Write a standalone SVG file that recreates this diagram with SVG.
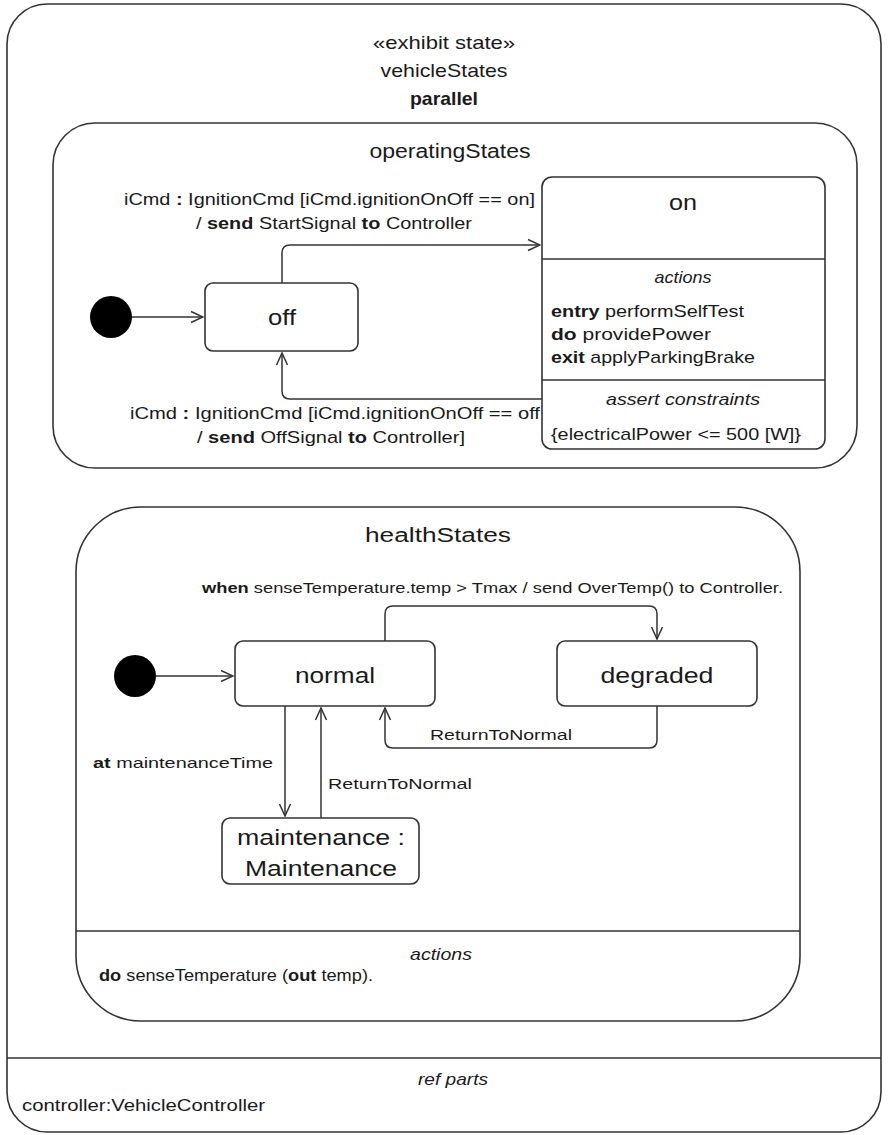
<svg xmlns="http://www.w3.org/2000/svg" width="888" height="1135" viewBox="0 0 888 1135">
<style>
 .box{fill:#fff;stroke:#333;stroke-width:1.6}
 .sep{fill:none;stroke:#333;stroke-width:1.5}
 .conn{fill:none;stroke:#333;stroke-width:1.5;marker-end:url(#arr)}
 .init{fill:#000}
 text{font-family:"Liberation Sans",Arial,Helvetica,sans-serif;fill:#1a1a1a}
 .t19{font-size:19px}
 .t20{font-size:20px}
 .t22{font-size:22px}
 .t17{font-size:17px}
 .t15{font-size:15px}
 .c{text-anchor:middle}
 .i{font-style:italic}
 .bd{font-weight:bold}
</style>
<defs>
 <marker id="arr" viewBox="0 0 14 14" refX="13" refY="7" markerWidth="14" markerHeight="14" markerUnits="userSpaceOnUse" orient="auto">
  <path d="M1,1.5 L13,7 L1,12.5" fill="none" stroke="#333" stroke-width="1.5"/>
 </marker>
</defs>

<g id="vehicleStates">
 <rect class="box" x="7" y="4" width="874" height="1128" rx="40"/>
 <line class="sep" x1="7" y1="1058" x2="881" y2="1058"/>
 <text class="t19 c" x="444" y="49" textLength="142" lengthAdjust="spacingAndGlyphs">«exhibit state»</text>
 <text class="t19 c" x="444" y="77" textLength="127" lengthAdjust="spacingAndGlyphs">vehicleStates</text>
 <text class="t19 c bd" x="444" y="105" textLength="68" lengthAdjust="spacingAndGlyphs">parallel</text>
 <text class="t17 c i" x="453" y="1085" textLength="70" lengthAdjust="spacingAndGlyphs">ref parts</text>
 <text class="t17" x="22" y="1111" textLength="243" lengthAdjust="spacingAndGlyphs">controller:VehicleController</text>
</g>

<g id="operatingStates">
 <rect class="box" x="53" y="123" width="804" height="345" rx="42"/>
 <text class="t20 c" x="450" y="158" textLength="161" lengthAdjust="spacingAndGlyphs">operatingStates</text>
</g>

<g id="opInitial">
 <circle class="init" cx="111" cy="317" r="21"/>
</g>

<g id="off">
 <rect class="box" x="205" y="283" width="153" height="68" rx="8"/>
 <text class="t22 c" x="282" y="325" textLength="28" lengthAdjust="spacingAndGlyphs">off</text>
</g>

<g id="on">
 <rect class="box" x="542" y="177" width="283" height="272" rx="10"/>
 <line class="sep" x1="542" y1="259" x2="825" y2="259"/>
 <line class="sep" x1="542" y1="380" x2="825" y2="380"/>
 <text class="t22 c" x="683" y="210" textLength="28" lengthAdjust="spacingAndGlyphs">on</text>
 <text class="t17 c i" x="683" y="283" textLength="57" lengthAdjust="spacingAndGlyphs">actions</text>
 <text class="t17" x="551" y="317" textLength="193" lengthAdjust="spacingAndGlyphs"><tspan class="bd">entry</tspan> performSelfTest</text>
 <text class="t17" x="551" y="340" textLength="160" lengthAdjust="spacingAndGlyphs"><tspan class="bd">do</tspan> providePower</text>
 <text class="t17" x="551" y="363" textLength="204" lengthAdjust="spacingAndGlyphs"><tspan class="bd">exit</tspan> applyParkingBrake</text>
 <text class="t17 c i" x="683" y="405" textLength="154" lengthAdjust="spacingAndGlyphs">assert constraints</text>
 <text class="t17" x="551" y="440" textLength="250" lengthAdjust="spacingAndGlyphs">{electricalPower &lt;= 500 [W]}</text>
</g>

<g id="healthStates">
 <rect class="box" x="76" y="507" width="724" height="514" rx="65"/>
 <line class="sep" x1="76" y1="931" x2="800" y2="931"/>
 <text class="t20 c" x="438" y="542" textLength="146" lengthAdjust="spacingAndGlyphs">healthStates</text>
 <text class="t17 c i" x="441" y="960" textLength="62" lengthAdjust="spacingAndGlyphs">actions</text>
 <text class="t17" x="99" y="981" textLength="274" lengthAdjust="spacingAndGlyphs"><tspan class="bd">do</tspan> senseTemperature (<tspan class="bd">out</tspan> temp).</text>
</g>

<g id="hsInitial">
 <circle class="init" cx="135" cy="676" r="21"/>
</g>

<g id="normal">
 <rect class="box" x="235" y="641" width="200" height="65" rx="8"/>
 <text class="t22 c" x="335" y="683" textLength="80" lengthAdjust="spacingAndGlyphs">normal</text>
</g>

<g id="degraded">
 <rect class="box" x="557" y="641" width="200" height="65" rx="8"/>
 <text class="t22 c" x="657" y="683" textLength="113" lengthAdjust="spacingAndGlyphs">degraded</text>
</g>

<g id="maintenance">
 <rect class="box" x="222" y="818" width="197" height="66" rx="8"/>
 <text class="t22 c" x="321" y="845" textLength="168" lengthAdjust="spacingAndGlyphs">maintenance :</text>
 <text class="t22 c" x="321" y="876" textLength="152" lengthAdjust="spacingAndGlyphs">Maintenance</text>
</g>

<g id="connectors">
 <path class="conn" d="M132,317 H203"/>
 <path class="conn" d="M282,283 V253 Q282,245 290,245 H540"/>
 <path class="conn" d="M542,399 H290 Q282,399 282,391 V353"/>
 <path class="conn" d="M156,676 H233"/>
 <path class="conn" d="M385,641 V614 Q385,606 393,606 H649 Q657,606 657,614 V639"/>
 <path class="conn" d="M657,706 V740 Q657,748 649,748 H393 Q385,748 385,740 V708"/>
 <path class="conn" d="M285,706 V816"/>
 <path class="conn" d="M321,818 V708"/>
</g>

<g id="labels">
 <text class="t17" x="124" y="205" textLength="411" lengthAdjust="spacingAndGlyphs">iCmd <tspan class="bd">:</tspan> IgnitionCmd [iCmd.ignitionOnOff == on]</text>
 <text class="t17" x="196" y="229" textLength="276" lengthAdjust="spacingAndGlyphs">/ <tspan class="bd">send</tspan> StartSignal <tspan class="bd">to</tspan> Controller</text>
 <text class="t17" x="130" y="419" textLength="410" lengthAdjust="spacingAndGlyphs">iCmd <tspan class="bd">:</tspan> IgnitionCmd [iCmd.ignitionOnOff == off</text>
 <text class="t17" x="197" y="443" textLength="268" lengthAdjust="spacingAndGlyphs">/ <tspan class="bd">send</tspan> OffSignal <tspan class="bd">to</tspan> Controller]</text>
 <text class="t15" x="202" y="593" textLength="581" lengthAdjust="spacingAndGlyphs"><tspan class="bd">when</tspan> senseTemperature.temp &gt; Tmax / send OverTemp() to Controller.</text>
 <text class="t15" x="430" y="740" textLength="142" lengthAdjust="spacingAndGlyphs">ReturnToNormal</text>
 <text class="t15" x="93" y="768" textLength="180" lengthAdjust="spacingAndGlyphs"><tspan class="bd">at</tspan> maintenanceTime</text>
 <text class="t15" x="328" y="789" textLength="144" lengthAdjust="spacingAndGlyphs">ReturnToNormal</text>
</g>
</svg>
